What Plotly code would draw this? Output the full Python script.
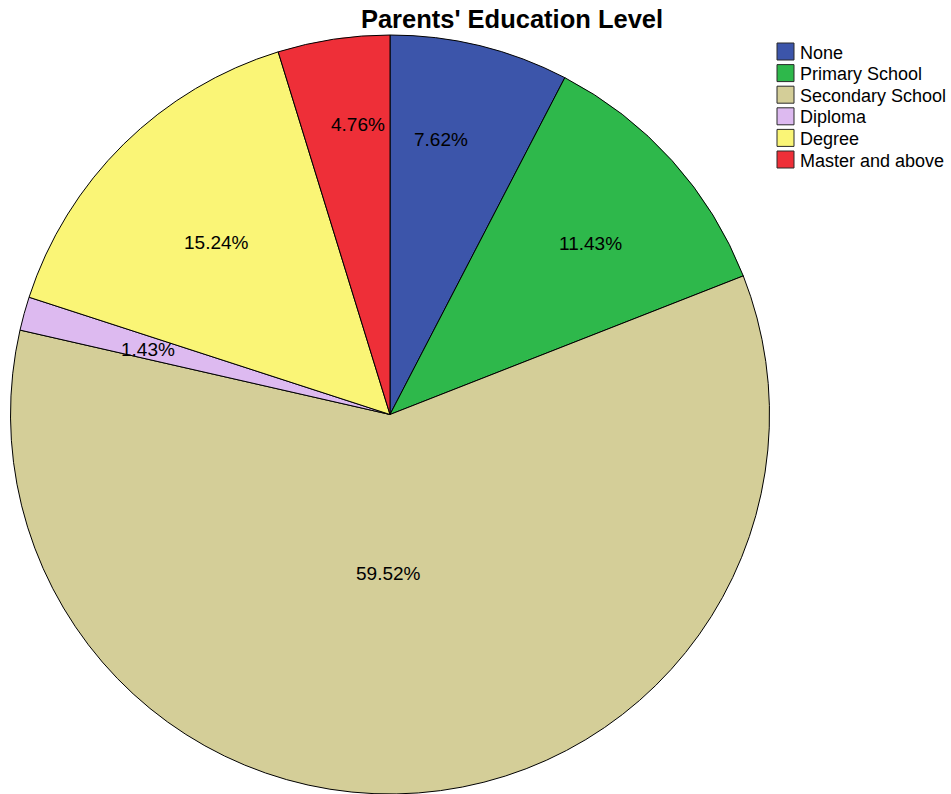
import math
import plotly.graph_objects as go

# Education level categories and their share of respondents (%)
categories = ["None", "Primary School", "Secondary School", "Diploma", "Degree", "Master and above"]
percentages = [7.62, 11.43, 59.52, 1.43, 15.24, 4.76]
colors = ["#3C55AA", "#2EB84B", "#D4CE98", "#DDBAF0", "#FAF576", "#EE2F38"]

# value-label placement: radius as fraction of pie radius, and angular nudge (deg) from slice middle
label_radius = [0.736, 0.694, 0.42, 0.66, 0.645, 0.768]
label_shift = [-3.2, 1.6, 4.7, -0.4, -0.7, 2.3]

FONT = "Liberation Sans, Arial, sans-serif"
W, H = 951, 794
dom_x = [10 / W, 770 / W]
dom_y = [0.0, 1 - 35 / H]

fig = go.Figure(
    go.Pie(
        labels=categories,
        values=percentages,
        marker=dict(colors=colors, line=dict(color="#000000", width=1)),
        sort=False,
        direction="clockwise",
        rotation=0,
        textinfo="none",
        hoverinfo="label+percent",
        domain=dict(x=dom_x, y=dom_y),
        showlegend=False,
    )
)

# value labels placed around each slice's mid-angle
cx = (dom_x[0] + dom_x[1]) / 2 * W
cy_top = (1 - (dom_y[0] + dom_y[1]) / 2) * H
R = min((dom_x[1] - dom_x[0]) * W, (dom_y[1] - dom_y[0]) * H) / 2
total = sum(percentages)
cum = 0.0
for val, frac, shift in zip(percentages, label_radius, label_shift):
    mid = math.radians((cum + val / 2) / total * 360 + shift)
    cum += val
    px = cx + frac * R * math.sin(mid)
    py = cy_top - frac * R * math.cos(mid)
    fig.add_annotation(
        x=px / W, y=1 - py / H, xref="paper", yref="paper",
        xanchor="center", yanchor="middle",
        text=f"{val:.2f}%", showarrow=False,
        font=dict(family=FONT, size=19, color="#000000"),
    )

# legend: square swatch + category name per row
sw_x0, sw_size, row_top, row_step = 777, 17, 43, 21.6
for i, (name, col) in enumerate(zip(categories, colors)):
    y0 = row_top + i * row_step
    fig.add_shape(
        type="rect", xref="paper", yref="paper",
        x0=sw_x0 / W, x1=(sw_x0 + sw_size) / W,
        y0=1 - (y0 + sw_size) / H, y1=1 - y0 / H,
        fillcolor=col, line=dict(color="#2A2A2A", width=1),
    )
    fig.add_annotation(
        x=(sw_x0 + sw_size + 4) / W, y=1 - (y0 + sw_size / 2 + 1) / H,
        xref="paper", yref="paper", xanchor="left", yanchor="middle",
        text=name, showarrow=False,
        font=dict(family=FONT, size=18, color="#000000"),
    )

fig.update_layout(
    width=W, height=H,
    margin=dict(l=0, r=0, t=0, b=0),
    paper_bgcolor="#FFFFFF",
    plot_bgcolor="#FFFFFF",
    font=dict(family=FONT, color="#000000"),
    title=dict(
        text="<b>Parents' Education Level</b>",
        x=512 / W, xanchor="center", y=1 - 19 / H, yanchor="middle",
        font=dict(size=25.5, color="#000000"),
    ),
    showlegend=False,
)

fig.write_html("out.html")
